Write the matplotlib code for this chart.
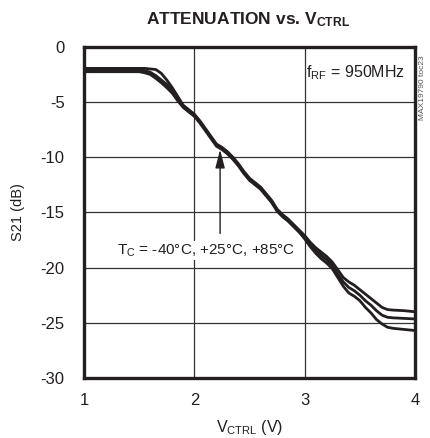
import matplotlib
matplotlib.use("Agg")
import matplotlib.pyplot as plt

plt.rcParams['font.family'] = ['Liberation Sans', 'DejaVu Sans']
plt.rcParams['mathtext.fontset'] = 'custom'
plt.rcParams['mathtext.rm'] = 'Liberation Sans'
plt.rcParams['mathtext.it'] = 'Liberation Sans'
plt.rcParams['mathtext.bf'] = 'Liberation Sans:bold'

# Data
vctrl = [1.0, 1.1, 1.2, 1.3, 1.4, 1.5, 1.55, 1.6, 1.65, 1.7, 1.75, 1.8, 1.85, 1.9, 1.95,
         2.0, 2.05, 2.1, 2.15, 2.2, 2.25, 2.3, 2.35, 2.4, 2.45, 2.5, 2.55, 2.6, 2.65,
         2.7, 2.75, 2.8, 2.85, 2.9, 2.95, 3.0, 3.05, 3.1, 3.15, 3.2, 3.25, 3.3, 3.35,
         3.4, 3.45, 3.5, 3.55, 3.6, 3.65, 3.7, 3.75, 3.8, 3.9, 4.0]

s21_a = [-1.95, -1.95, -1.95, -1.95, -1.95, -1.95, -1.95, -2.0, -2.05, -2.4, -3.0, -3.7,
         -4.5, -5.3, -5.7, -6.1, -6.7, -7.4, -8.1, -8.8, -9.1, -9.5, -10.0, -10.6, -11.3,
         -11.9, -12.3, -12.7, -13.3, -13.9, -14.7, -15.2, -15.6, -16.1, -16.6, -17.1,
         -17.7, -18.2, -18.6, -19.0, -19.5, -20.2, -20.9, -21.3, -21.6, -22.0, -22.4,
         -22.8, -23.2, -23.6, -23.8, -23.85, -23.9, -24.0]

s21_b = [-2.1, -2.1, -2.1, -2.1, -2.1, -2.1, -2.15, -2.3, -2.6, -3.0, -3.4, -4.0,
         -4.7, -5.4, -5.8, -6.2, -6.8, -7.5, -8.2, -8.9, -9.2, -9.6, -10.1, -10.7, -11.4,
         -12.0, -12.4, -12.8, -13.4, -14.0, -14.8, -15.3, -15.7, -16.2, -16.7, -17.2,
         -17.8, -18.4, -18.9, -19.3, -19.8, -20.6, -21.3, -21.8, -22.1, -22.5, -23.0,
         -23.4, -23.9, -24.3, -24.5, -24.55, -24.6, -24.65]

s21_c = [-2.25, -2.25, -2.25, -2.25, -2.25, -2.25, -2.35, -2.5, -2.85, -3.25, -3.7, -4.2,
         -4.9, -5.5, -5.9, -6.3, -6.9, -7.6, -8.3, -9.0, -9.3, -9.7, -10.2, -10.8, -11.5,
         -12.1, -12.5, -12.9, -13.5, -14.1, -14.9, -15.4, -15.8, -16.3, -16.8, -17.4,
         -18.1, -18.7, -19.2, -19.6, -20.1, -20.9, -21.7, -22.3, -22.6, -23.0, -23.6,
         -24.1, -24.7, -25.1, -25.4, -25.5, -25.6, -25.7]

x_ticks = [1, 2, 3, 4]
y_ticks = [0, -5, -10, -15, -20, -25, -30]

fig = plt.figure(figsize=(4.31, 4.38), dpi=100)
ax = fig.add_axes([0.195, 0.137, 0.768, 0.756])

for s in (s21_a, s21_b, s21_c):
    ax.plot(vctrl, s, color='#231f20', lw=2.0, solid_joinstyle='round', zorder=3)

ax.set_xlim(1, 4)
ax.set_ylim(-30, 0)
ax.set_xticks(x_ticks)
ax.set_yticks(y_ticks)
ax.set_xticklabels([str(v) for v in x_ticks])
ax.set_yticklabels([str(v) for v in y_ticks])
ax.tick_params(length=0, labelsize=12, colors='#231f20')
ax.tick_params(axis='x', pad=11)
ax.tick_params(axis='y', pad=14)
ax.grid(True, color='#333333', lw=0.9)
ax.set_axisbelow(True)
for sp in ax.spines.values():
    sp.set_linewidth(2.4)
    sp.set_color('#231f20')

ax.set_ylabel('S21 (dB)', fontsize=10.5, color='#231f20', labelpad=11)
ax.set_xlabel(r'V$_{\mathrm{CTRL}}$ (V)', fontsize=11.5, color='#231f20', labelpad=7)
fig.text(0.576, 0.955, r'ATTENUATION vs. V$_{\mathbf{CTRL}}$', ha='center', va='center',
         fontsize=12.5, fontweight='bold', color='#231f20')

ax.text(3.46, -2.35, r'f$_{\mathrm{RF}}$ = 950MHz', ha='center', va='center',
        fontsize=11.5, color='#231f20', zorder=2.5)
ax.text(2.11, -18.45, r'T$_{\mathrm{C}}$ = -40°C, +25°C, +85°C', ha='center', va='center',
        fontsize=11, color='#231f20', zorder=2.5,
        bbox=dict(facecolor='white', edgecolor='none', pad=1.0))
ax.annotate('', xy=(2.233, -9.3), xytext=(2.233, -16.9),
            arrowprops=dict(arrowstyle='-|>,head_length=0.7,head_width=0.18', color='#231f20',
                            lw=1.0, mutation_scale=16, shrinkA=0, shrinkB=0), zorder=4)

fig.text(0.981, 0.80, 'MAX19790 toc23', rotation=90, ha='center', va='center',
         fontsize=6, color='#555555')

fig.savefig('out.png', dpi=100)
